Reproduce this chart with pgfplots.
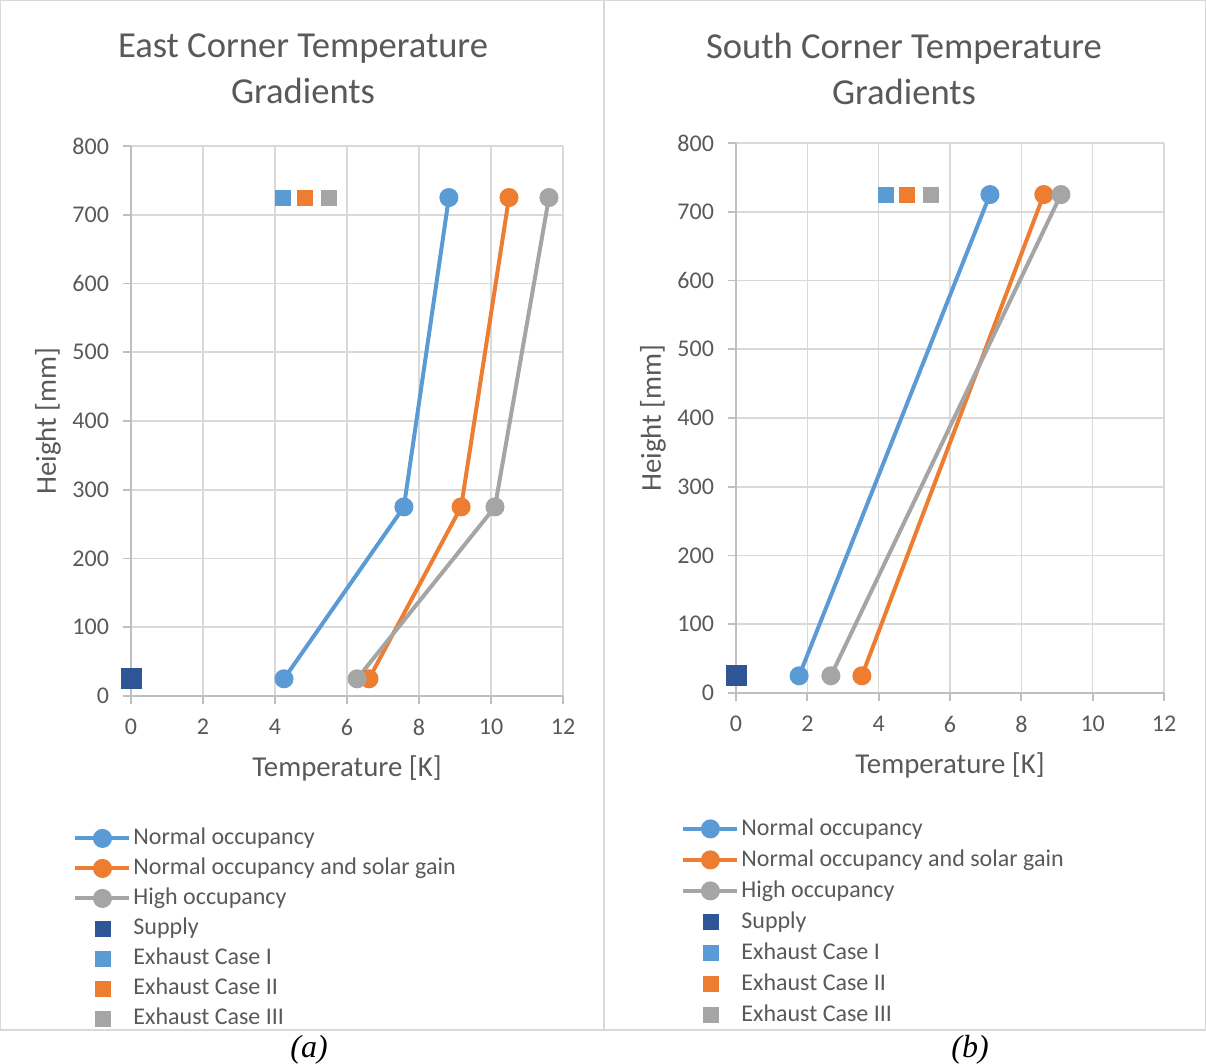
\documentclass[border=0pt]{standalone}
\usepackage{pgfplots}
\pgfplotsset{compat=1.18}
\usepackage{fontspec}
\setmainfont{Carlito}
\newfontfamily\timesfont{Liberation Serif}
\definecolor{cblue}{HTML}{5B9BD5}
\definecolor{corange}{HTML}{ED7D31}
\definecolor{cgray}{HTML}{A5A5A5}
\definecolor{cdark}{HTML}{2F5597}
\definecolor{ctext}{HTML}{595959}
\definecolor{cgrid}{HTML}{D9D9D9}
\definecolor{caxis}{HTML}{BFBFBF}

\pgfplotsset{
 panel/.style={
  scale only axis, height=275pt,
  xmin=0,xmax=12,ymin=0,ymax=800,
  xtick={0,2,...,12}, ytick={0,100,...,800},
  grid=major, major grid style={cgrid, line width=0.8pt},
  axis x line*=bottom, axis y line*=left,
  axis line style={caxis, line width=0.9pt, -},
  tick style={caxis, line width=0.9pt},
  tick align=outside, major tick length=4pt,
  ticklabel style={font=\fontsize{12}{14}\selectfont, text=ctext},
  xticklabel style={yshift=-4pt},
  yticklabel style={xshift=-3.5pt},
  /pgf/number format/assume math mode=true,
  clip=false,
  legend cell align=left,
  legend style={draw=none, fill=none, font=\fontsize{12}{14}\selectfont, text=ctext, anchor=north west, row sep=0pt,
     nodes={inner ysep=1pt, inner xsep=1pt, text height=9.5pt, text depth=3.5pt}},
 },
 lineplot/.style={line width=2pt, mark=*, mark size=3.75pt, mark options={solid},
   legend image code/.code={\draw[##1, mark repeat=2, mark phase=2] plot coordinates {(0pt,0pt) (13.5pt,0pt) (27pt,0pt)};}},
 sqplot/.style={only marks, mark=square*, mark size=3.75pt,
   legend image code/.code={\draw[##1, mark size=3.75pt] plot coordinates {(13.5pt,0pt)};}},
}

\begin{document}
\begin{tikzpicture}
\path[use as bounding box] (0,0) rectangle (603pt,532pt);
\draw[cgrid, line width=0.6pt] (0.3pt,17pt) rectangle (302pt,531.7pt);
\draw[cgrid, line width=0.6pt] (302pt,17pt) rectangle (602.7pt,531.7pt);

% ---------- (a) East ----------
\begin{axis}[panel, width=216pt, at={(65.5pt,184pt)}, anchor=south west,
  legend style={at={(-0.148,-0.2237)}}]
\addplot[lineplot, color=cblue] coordinates {(4.25,25) (7.58,275) (8.83,725)};
\addlegendentry{Normal occupancy}
\addplot[lineplot, color=corange] coordinates {(6.61,25) (9.17,275) (10.5,725)};
\addlegendentry{Normal occupancy and solar gain}
\addplot[lineplot, color=cgray] coordinates {(6.28,25) (10.11,275) (11.61,725)};
\addlegendentry{High occupancy}
\addplot[sqplot, color=cdark, mark size=5pt] coordinates {(0,25)};
\addlegendentry{Supply}
\addplot[sqplot, color=cblue] coordinates {(4.22,725)};
\addlegendentry{Exhaust Case I}
\addplot[sqplot, color=corange] coordinates {(4.83,725)};
\addlegendentry{Exhaust Case II}
\addplot[sqplot, color=cgray] coordinates {(5.5,725)};
\addlegendentry{Exhaust Case III}
\end{axis}

% ---------- (b) South ----------
\begin{axis}[panel, width=214pt, at={(368pt,185.5pt)}, anchor=south west,
  legend style={at={(-0.1425,-0.2109)}, nodes={text height=10pt, text depth=3.5pt}}]
\addplot[lineplot, color=cblue] coordinates {(1.77,25) (7.12,725)};
\addlegendentry{Normal occupancy}
\addplot[lineplot, color=corange] coordinates {(3.53,25) (8.63,725)};
\addlegendentry{Normal occupancy and solar gain}
\addplot[lineplot, color=cgray] coordinates {(2.66,25) (9.11,725)};
\addlegendentry{High occupancy}
\addplot[sqplot, color=cdark, mark size=5pt] coordinates {(0,25)};
\addlegendentry{Supply}
\addplot[sqplot, color=cblue] coordinates {(4.2,725)};
\addlegendentry{Exhaust Case I}
\addplot[sqplot, color=corange] coordinates {(4.8,725)};
\addlegendentry{Exhaust Case II}
\addplot[sqplot, color=cgray] coordinates {(5.47,725)};
\addlegendentry{Exhaust Case III}
\end{axis}

% titles and labels
\node[font=\fontsize{18.3}{23}\selectfont, text=ctext, align=center] at (151.5pt,497.75pt) {East Corner Temperature\\Gradients};
\node[font=\fontsize{18.3}{23}\selectfont, text=ctext, align=center] at (452pt,497.75pt) {South Corner Temperature\\Gradients};
\node[font=\fontsize{14.4}{16}\selectfont, text=ctext] at (173.5pt,148pt) {Temperature [K]};
\node[font=\fontsize{14.4}{16}\selectfont, text=ctext] at (475pt,149.5pt) {Temperature [K]};
\node[font=\fontsize{14.4}{16}\selectfont, text=ctext, rotate=90] at (24pt,321.5pt) {Height [mm]};
\node[font=\fontsize{14.4}{16}\selectfont, text=ctext, rotate=90] at (326.5pt,323pt) {Height [mm]};
\node[font=\timesfont\itshape\fontsize{16}{18}\selectfont] at (154.5pt,7pt) {(a)};
\node[font=\timesfont\itshape\fontsize{16}{18}\selectfont] at (485pt,7pt) {(b)};
\end{tikzpicture}
\end{document}
